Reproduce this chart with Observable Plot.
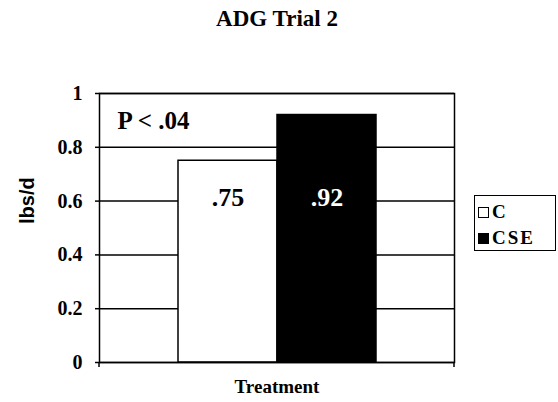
<!DOCTYPE html>
<html>
<head>
<meta charset="utf-8">
<script src="https://cdn.jsdelivr.net/npm/d3@7"></script>
<script src="https://cdn.jsdelivr.net/npm/@observablehq/plot@0.6"></script>
<style>
  html, body { margin: 0; padding: 0; background: #fff; }
  #wrap { position: relative; width: 558px; height: 402px; overflow: hidden; }
  #legend {
    position: absolute; left: 474px; top: 195px; width: 82px; height: 56px;
    border: 1.5px solid #000; box-sizing: border-box;
    font-family: "Liberation Serif", "Times New Roman", serif; font-weight: bold;
    font-size: 19px; letter-spacing: 2px; color: #000;
  }
  .item { position: absolute; left: 3px; display: flex; align-items: center; height: 20px; }
  .sw { width: 11px; height: 11px; border: 1.5px solid #000; box-sizing: border-box; margin-right: 3px; }
</style>
</head>
<body>
<div id="wrap"></div>
<script>
const title = "ADG Trial 2";
const categories = ["C", "CSE"];
const values = [0.75, 0.92];
const colors = ["#ffffff", "#000000"];
const labelColors = ["#000000", "#ffffff"];
const yTicks = [0, 0.2, 0.4, 0.6, 0.8, 1];
const xTitle = "Treatment";
const yTitle = "lbs/d";
const note = "P < .04";

const data = categories.map((c, i) => ({cat: c, value: values[i], fill: colors[i], lc: labelColors[i],
  label: values[i].toFixed(2).replace(/^0/, "")}));

const serif = "'Liberation Serif', 'Times New Roman', serif";

// small tick marks at both ends of the category axis
function xEndTicks(index, scales, values, dim) {
  const g = document.createElementNS("http://www.w3.org/2000/svg", "g");
  const y0 = dim.height - dim.marginBottom;
  [dim.marginLeft, dim.width - dim.marginRight].forEach(x => {
    const l = document.createElementNS("http://www.w3.org/2000/svg", "line");
    l.setAttribute("x1", x); l.setAttribute("x2", x);
    l.setAttribute("y1", y0); l.setAttribute("y2", y0 + 5);
    l.setAttribute("stroke", "#000"); l.setAttribute("stroke-width", 1.5);
    g.appendChild(l);
  });
  return g;
}

const chart = Plot.plot({
  width: 558,
  height: 402,
  marginLeft: 99,
  marginRight: 104,
  marginTop: 93,
  marginBottom: 40,
  style: {fontFamily: serif, fontWeight: "bold", background: "#fff", color: "#000", overflow: "visible"},
  x: {domain: categories, paddingInner: 0, paddingOuter: 0.776, axis: null},
  y: {domain: [0, 1], ticks: yTicks, axis: null},
  marks: [
    Plot.gridY(yTicks, {stroke: "#000", strokeOpacity: 1, strokeWidth: 1.5}),
    Plot.barY(data, {x: "cat", y: "value", fill: "fill", stroke: "#000", strokeWidth: 1.5}),
    Plot.frame({stroke: "#000", strokeWidth: 1.5}),
    Plot.axisY(yTicks, {tickSize: 4, tickPadding: 13, strokeWidth: 1.5, fontSize: 20, fontWeight: "bold", label: null,
      tickFormat: d => d3.format("")(d), fill: "#000"}),
    xEndTicks,
    Plot.text(data, {x: "cat", y: 0.6, dy: -3, text: "label", fill: "lc", fontSize: 26, fontWeight: "bold"}),
    Plot.text([note], {frameAnchor: "top-left", dx: 18, dy: 27, lineAnchor: "middle", fontSize: 25, fontWeight: "bold", textAnchor: "start"}),
    Plot.text([title], {frameAnchor: "top", dy: -75, lineAnchor: "middle", fontSize: 23, fontWeight: "bold"}),
    Plot.text([xTitle], {frameAnchor: "bottom", dy: 24, lineAnchor: "middle", fontSize: 19, fontWeight: "bold", letterSpacing: "2.5px"}),
    Plot.text([yTitle], {frameAnchor: "left", dx: -72, dy: -4, rotate: -90, fontSize: 20, fontWeight: "bold",
      fontFamily: "'Liberation Sans', Arial, sans-serif"})
  ]
});

const wrap = document.getElementById("wrap");
wrap.appendChild(chart);

const legend = document.createElement("div");
legend.id = "legend";
categories.forEach((c, i) => {
  const it = document.createElement("div");
  it.className = "item";
  it.style.top = (i === 0 ? 6 : 32) + "px";
  const sw = document.createElement("div");
  sw.className = "sw";
  sw.style.background = colors[i];
  const t = document.createElement("span");
  t.textContent = c;
  it.appendChild(sw); it.appendChild(t);
  legend.appendChild(it);
});
wrap.appendChild(legend);
</script>
</body>
</html>
